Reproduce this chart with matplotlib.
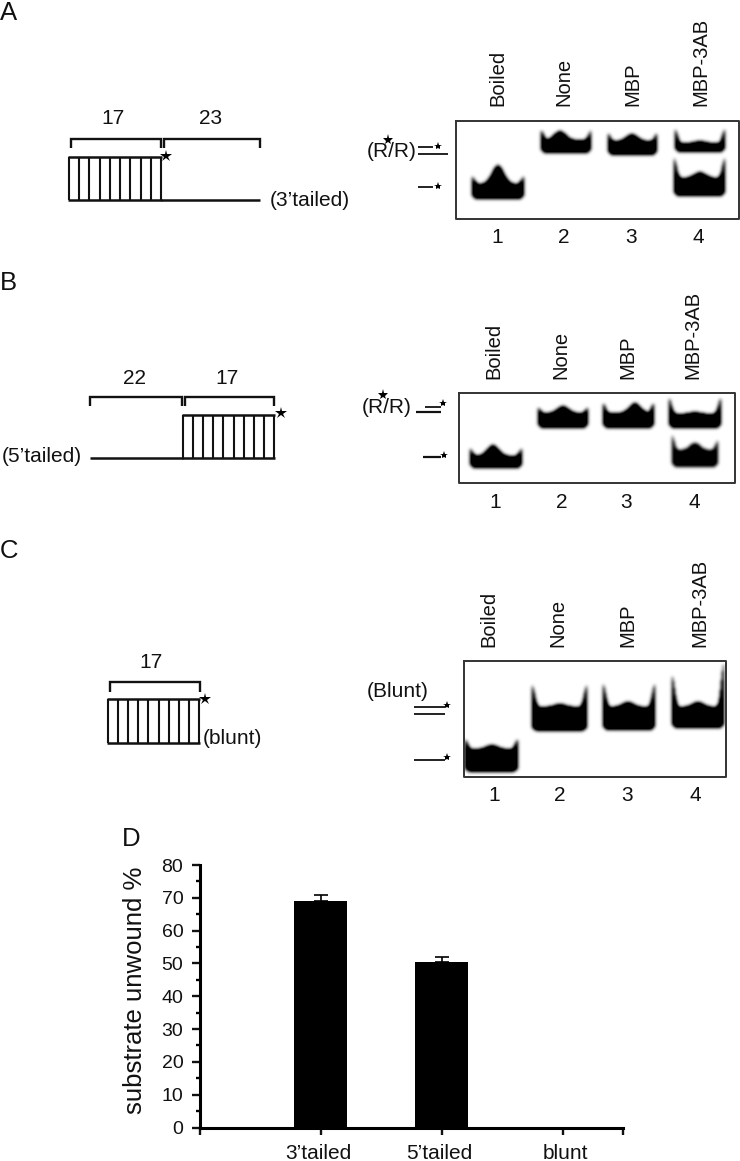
import numpy as np
import matplotlib
matplotlib.use("Agg")
import matplotlib.pyplot as plt
from matplotlib.transforms import ScaledTranslation

plt.rcParams['font.family'] = ['Liberation Sans', 'DejaVu Sans']
W, H = 740, 1161
INK = '#111111'

# Panel D data
categories = ["3\u2019tailed", "5\u2019tailed", "blunt"]
unwound = [69.0, 50.5, 0.0]
errors = [2.0, 1.5, 0.0]
y_ticks = [0, 10, 20, 30, 40, 50, 60, 70, 80]
lanes = ['Boiled', 'None', 'MBP', 'MBP-3AB']
lane_numbers = ['1', '2', '3', '4']

# Gel bands: x0, x1, bottom, body top, edge-left top, edge-right top, centre top, centre x, darkness
bands_a = [(472, 524, 199, 184, 177, 177, 165, 498, 1.0),
           (541, 591, 153, 140, 131, 131, 131, 560, 1.0),
           (608, 657, 155, 141, 134, 134, 134, 632, 1.0),
           (675, 725, 152, 143, 130, 130, 141, 700, 1.0),
           (674, 725, 196, 178, 159, 159, 172, 700, 1.0)]
bands_b = [(470, 522, 468, 456, 449, 449, 445, 493, 1.0),
           (538, 588, 428, 413, 408, 408, 406, 563, 1.0),
           (603, 654, 428, 413, 404, 404, 403, 635, 1.0),
           (669, 721, 428, 414, 399, 399, 412, 695, 1.0),
           (672, 718, 467, 450, 436, 441, 443, 695, 0.88)]
bands_c = [(465, 518, 772, 749, 740, 740, 745, 492, 1.0),
           (532, 587, 731, 707, 686, 686, 704, 560, 1.0),
           (603, 655, 730, 707, 685, 685, 702, 628, 1.0),
           (672, 724, 728, 707, 676, 664, 702, 698, 1.0)]


def gel_image(box, bands, sigma=1.7):
    x0, x1, y0, y1 = box
    xs = np.arange(x0, x1) + 0.5
    ys = np.arange(y0, y1) + 0.5
    img = np.zeros((len(ys), len(xs)))
    for (a, b, bot, body, el, er, ctop, cx, dark) in bands:
        t = (xs - a) / (b - a)
        top = body - (body - el) * np.exp(-(t / 0.07) ** 2) \
                   - (body - er) * np.exp(-((1 - t) / 0.07) ** 2) \
                   - (body - ctop) * np.exp(-((xs - cx) / ((b - a) * 0.16)) ** 2)
        low = bot - 3 * (np.exp(-(t / 0.05) ** 2) + np.exp(-((1 - t) / 0.05) ** 2))
        inside = (t >= 0) & (t <= 1)
        mask = (ys[:, None] >= top[None, :]) & (ys[:, None] <= low[None, :]) & inside[None, :]
        img = np.maximum(img, mask * dark)
    r = int(3 * sigma)
    k = np.exp(-0.5 * (np.arange(-r, r + 1) / sigma) ** 2)
    k /= k.sum()
    img = np.apply_along_axis(lambda v: np.convolve(v, k, mode='same'), 0, img)
    img = np.apply_along_axis(lambda v: np.convolve(v, k, mode='same'), 1, img)
    return 1 - np.clip(img * 1.25, 0, 1)


fig = plt.figure(figsize=(W / 100, H / 100), dpi=100, facecolor='white')
ov = fig.add_axes([0, 0, 1, 1])
ov.set_xlim(0, W)
ov.set_ylim(H, 0)
ov.axis('off')


def line(xs, ys, lw=1.3, color=INK):
    ov.plot(xs, ys, color=color, lw=lw, solid_capstyle='butt', solid_joinstyle='miter')


def star(x, y, s=8):
    ov.plot([x], [y], marker='*', ms=s, color='black', mew=0)


def txt(x, y, s, fs=15, ha='center', va='center', rot=0):
    ov.text(x, y + (1.5 if rot == 0 else -1), s, fontsize=fs, ha=ha, va=va, rotation=rot, color=INK)


def duplex(x0, x1, y0, y1, n=9):
    for x in np.linspace(x0, x1, n + 1):
        line([x, x], [y0, y1], lw=1.5)
    line([x0 - 0.7, x1 + 0.7], [y0, y0], lw=1.8)
    line([x0 - 0.7, x1 + 0.7], [y1, y1], lw=1.8)


def bracket(x0, x1, top, bot):
    line([x0, x0, x1, x1], [bot, top, top, bot], lw=1.7)


def gel(box, bands):
    x0, x1, y0, y1 = box
    ov.imshow(gel_image(box, bands), extent=(x0, x1, y1, y0), cmap='gray', vmin=0, vmax=1,
              aspect='auto', interpolation='bilinear', zorder=1)
    ov.plot([x0, x1, x1, x0, x0], [y0, y0, y1, y1, y0], color='#333333', lw=1.4, zorder=2)
    ov.set_xlim(0, W)
    ov.set_ylim(H, 0)


def lane_text(xs, bottom, num_xs, num_y):
    for x, s in zip(xs, lanes):
        txt(x, bottom, s, fs=14.5, va='bottom', rot=90)
    for x, s in zip(num_xs, lane_numbers):
        txt(x, num_y, s, fs=15)


# Panel letters
txt(0, 12, 'A', fs=18.5, ha='left')
txt(0, 281, 'B', fs=18.5, ha='left')
txt(0, 549, 'C', fs=18.5, ha='left')
txt(122, 838, 'D', fs=18.5, ha='left')

# Panel A schematic
txt(113, 117, '17')
txt(211, 117, '23')
bracket(71, 161, 139, 148)
bracket(164, 260, 139, 148)
duplex(69, 161, 157, 200)
line([161, 260], [200, 200], lw=1.8)
star(166, 156, 9)
txt(270, 199, '(3\u2019tailed)', ha='left')

# Panel A gel
gel((456, 739, 121, 219), bands_a)
lane_text([498, 564, 633, 701], 107, [497, 564, 631, 698], 236)
txt(367, 150, '(R/R)', ha='left')
star(388, 140, 8)
line([418, 433], [147, 147])
star(438, 146, 6)
line([418, 448], [154, 154])
line([418, 433], [187, 187])
star(438, 186, 6)

# Panel B schematic
txt(134, 377, '22')
txt(227, 377, '17')
bracket(90, 182, 397, 406)
bracket(185, 274, 397, 406)
duplex(183, 274, 415, 458)
line([90, 183], [458, 458], lw=1.8)
star(281, 413, 9)
txt(2, 455, '(5\u2019tailed)', ha='left')

# Panel B gel
gel((459, 735, 393, 483), bands_b)
lane_text([494, 561, 628, 693], 380, [495, 562, 626, 694], 501)
txt(362, 406, '(R/R)', ha='left')
star(383, 395, 8)
line([425, 441], [407, 407])
star(443, 403, 6)
line([416, 441], [412, 412], lw=1.6)
line([423, 441], [457, 457], lw=1.6)
star(444, 455, 6)

# Panel C schematic
txt(151, 661, '17')
bracket(110, 200, 682, 692)
duplex(108, 199, 699, 743)
star(204.5, 699, 9)
txt(203, 737, '(blunt)', ha='left')

# Panel C gel
gel((464, 726, 661, 777), bands_c)
lane_text([489, 558, 628, 700], 648, [494, 560, 627, 695], 794)
txt(367, 690, '(Blunt)', ha='left')
line([414, 445], [707, 707])
star(447, 705, 6)
line([414, 445], [714, 714])
line([414, 445], [760, 760])
star(447, 757, 6)

# Panel D
left, right, y0px, y80px = 200, 623, 1127.5, 865
ax = fig.add_axes([left / W, 1 - y0px / H, (right - left) / W, (y0px - y80px) / H])
ax.patch.set_alpha(0)
x = np.arange(len(categories))
ax.bar(x, unwound, width=0.44, color='black', yerr=[[0, 0, 0], errors],
       error_kw=dict(ecolor='black', elinewidth=1.2, capsize=5, capthick=1.2))
ax.set_xlim(-1, 2.5)
ax.set_ylim(0, 80)
ax.set_yticks(y_ticks)
ax.set_yticks(np.arange(5, 80, 10), minor=True)
ax.set_xticks([-1, 0, 1, 2, 2.5])
ax.set_xticklabels(['', categories[0], categories[1], categories[2], ''])
for s in ('top', 'right'):
    ax.spines[s].set_visible(False)
for s in ('left', 'bottom'):
    ax.spines[s].set_linewidth(2.2)
ax.tick_params(axis='y', which='major', length=6, width=1.7, labelsize=14, pad=6, colors=INK)
ax.tick_params(axis='y', which='minor', length=3, width=1.7)
ax.tick_params(axis='x', length=5, width=1.7, labelsize=15, pad=7, colors=INK)
for lab, dx in zip(ax.get_xticklabels()[1:4], (-2, -2, 3)):
    lab.set_transform(lab.get_transform() + ScaledTranslation(dx / 100, 0, fig.dpi_scale_trans))
ax.set_ylabel('substrate unwound %', fontsize=18.5, color=INK)
ax.yaxis.set_label_coords(-0.125, 0.523)

fig.savefig('out.png', dpi=100, facecolor='white')
